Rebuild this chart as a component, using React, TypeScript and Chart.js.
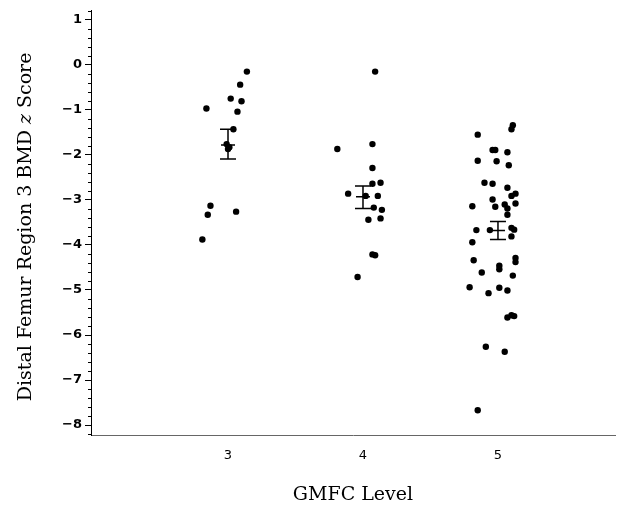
import React, { useEffect, useRef } from "react";
import { Chart, registerables } from "chart.js";

Chart.register(...registerables);

// ---- Data ----
const xTickValues = [3, 4, 5];
const xTickLabels = ["3", "4", "5"];
const yTickValues = [1, 0, -1, -2, -3, -4, -5, -6, -7, -8];

const xTitle = "GMFC Level";
const yTitleParts = [
  { text: "Distal Femur Region 3 BMD ", italic: false },
  { text: "z", italic: true },
  { text: " Score", italic: false },
];

// GMFC level 3 (jittered x, z score)
const level3X = [3.14, 3.09, 3.02, 3.10, 2.84, 3.07, 3.04, 2.99, 3.01, 3.0, 2.87, 2.85, 3.06, 2.81];
const level3Y = [-0.15, -0.44, -0.75, -0.81, -0.97, -1.04, -1.43, -1.76, -1.83, -1.87, -3.13, -3.33, -3.26, -3.88];

// GMFC level 4
const level4X = [4.09, 4.07, 3.81, 4.07, 4.07, 4.13, 3.89, 4.02, 4.11, 4.08, 4.14, 4.04, 4.13, 4.07, 4.09, 3.96];
const level4Y = [-0.15, -1.76, -1.87, -2.29, -2.64, -2.62, -2.86, -2.91, -2.91, -3.17, -3.22, -3.44, -3.41, -4.21, -4.23, -4.71];

// GMFC level 5
const level5X = [
  5.11, 5.10, 4.85, 4.96, 4.98, 5.07, 4.85, 4.99, 5.08, 4.90, 4.96, 5.07, 5.13, 5.10, 4.96,
  4.81, 4.98, 5.05, 5.07, 5.13, 5.07, 4.84, 4.94, 5.10, 5.12, 5.10, 4.81, 4.82, 5.13, 5.13,
  5.01, 5.01, 4.88, 5.11, 4.79, 4.93, 5.01, 5.07, 5.07, 5.10, 5.12, 4.91, 5.05, 4.85,
];
const level5Y = [
  -1.34, -1.43, -1.55, -1.89, -1.89, -1.94, -2.13, -2.14, -2.23, -2.62, -2.64, -2.73, -2.86, -2.91, -2.99,
  -3.14, -3.15, -3.10, -3.19, -3.08, -3.33, -3.67, -3.67, -3.62, -3.66, -3.81, -3.94, -4.34, -4.29, -4.38,
  -4.46, -4.54, -4.61, -4.68, -4.94, -5.07, -4.95, -5.01, -5.61, -5.56, -5.58, -6.26, -6.37, -7.67,
];

// Mean ± SE per level
const meanLevels = [3, 4, 5];
const meanValues = [-1.78, -2.93, -3.68];
const seLower = [-2.09, -3.19, -3.88];
const seUpper = [-1.43, -2.69, -3.48];

const toPoints = (xs: number[], ys: number[]) => xs.map((x, i) => ({ x, y: ys[i] }));

const fmt = (v: number) => (v < 0 ? "\u2212" + Math.abs(v) : String(v));

const SERIF = "'DejaVu Serif', 'Liberation Serif', serif";
const SANS = "'DejaVu Sans', 'Liberation Sans', sans-serif";

const decorPlugin = {
  id: "decor",
  afterDatasetsDraw(chart: any) {
    const { ctx, scales } = chart;
    const xs = scales.x;
    const ys = scales.y;
    ctx.save();
    ctx.strokeStyle = "#000";
    ctx.lineWidth = 1.5;
    meanLevels.forEach((lv, i) => {
      const px = xs.getPixelForValue(lv);
      const pLo = ys.getPixelForValue(seLower[i]);
      const pHi = ys.getPixelForValue(seUpper[i]);
      const pM = ys.getPixelForValue(meanValues[i]);
      ctx.beginPath();
      ctx.moveTo(px, pLo);
      ctx.lineTo(px, pHi);
      ctx.moveTo(px - 8, pLo);
      ctx.lineTo(px + 8, pLo);
      ctx.moveTo(px - 8, pHi);
      ctx.lineTo(px + 8, pHi);
      ctx.moveTo(px - 7, pM);
      ctx.lineTo(px + 7, pM);
      ctx.stroke();
    });
    ctx.restore();
  },
  afterDraw(chart: any) {
    const { ctx, chartArea, scales } = chart;
    const ys = scales.y;
    ctx.save();
    ctx.strokeStyle = "#000";
    ctx.lineWidth = 1;
    const lo = Math.ceil(ys.min * 5);
    const hi = Math.floor(ys.max * 5);
    for (let k = lo; k <= hi; k++) {
      if (k % 5 === 0) continue;
      const py = Math.round(ys.getPixelForValue(k / 5)) + 0.5;
      ctx.beginPath();
      ctx.moveTo(chartArea.left - 3, py);
      ctx.lineTo(chartArea.left, py);
      ctx.stroke();
    }
    ctx.fillStyle = "#000";
    ctx.textBaseline = "middle";
    const size = 19;
    const fonts = yTitleParts.map((p) => `${p.italic ? "italic " : ""}${size}px ${SERIF}`);
    const widths = yTitleParts.map((p, i) => {
      ctx.font = fonts[i];
      return ctx.measureText(p.text).width;
    });
    const total = widths.reduce((a, b) => a + b, 0);
    ctx.translate(26, (chartArea.top + chartArea.bottom) / 2 + 4);
    ctx.rotate(-Math.PI / 2);
    let cx = -total / 2;
    yTitleParts.forEach((p, i) => {
      ctx.font = fonts[i];
      ctx.textAlign = "left";
      ctx.fillText(p.text, cx, 0);
      cx += widths[i];
    });
    ctx.restore();
  },
};

export default function App() {
  const ref = useRef<HTMLCanvasElement | null>(null);
  useEffect(() => {
    if (!ref.current) return;
    const pointStyle = {
      backgroundColor: "#000",
      borderColor: "#000",
      pointRadius: 3.2,
      pointHoverRadius: 3.2,
      borderWidth: 0,
    };
    const chart = new Chart(ref.current, {
      type: "scatter",
      data: {
        datasets: [
          { label: "3", data: toPoints(level3X, level3Y), ...pointStyle },
          { label: "4", data: toPoints(level4X, level4Y), ...pointStyle },
          { label: "5", data: toPoints(level5X, level5Y), ...pointStyle },
        ],
      },
      options: {
        animation: false,
        responsive: false,
        events: [],
        layout: { padding: { left: 0, top: 8, right: 10, bottom: 0 } },
        plugins: { legend: { display: false }, tooltip: { enabled: false } },
        scales: {
          x: {
            type: "linear",
            min: 1.985,
            max: 5.867,
            afterBuildTicks: (axis: any) => {
              axis.ticks = xTickValues.map((v) => ({ value: v }));
            },
            afterFit: (scale: any) => {
              scale.height = 77;
            },
            grid: { display: false, drawTicks: false },
            border: { display: true, color: "#666", width: 1 },
            ticks: {
              padding: 13,
              color: "#000",
              font: { family: SANS, size: 13 },
              callback: (v: any) => {
                const i = xTickValues.indexOf(Number(v));
                return i >= 0 ? xTickLabels[i] : "";
              },
            },
            title: {
              display: true,
              text: xTitle,
              color: "#000",
              font: { family: SERIF, size: 19 },
              padding: { top: 0, bottom: 6 },
            },
          },
          y: {
            type: "linear",
            min: -8.22,
            max: 1.2,
            afterBuildTicks: (axis: any) => {
              axis.ticks = yTickValues.map((v) => ({ value: v }));
            },
            afterFit: (scale: any) => {
              scale.width = 91;
            },
            grid: {
              display: true,
              drawOnChartArea: false,
              drawTicks: true,
              tickLength: 6,
              color: "#000",
              tickColor: "#000",
            },
            border: { display: true, color: "#000", width: 1 },
            ticks: {
              padding: 3,
              color: "#000",
              font: { family: SANS, size: 13, weight: "bold" },
              callback: (v: any) => fmt(Number(v)),
            },
          },
        },
      },
      plugins: [decorPlugin],
    } as any);
    return () => chart.destroy();
  }, []);
  return (
    <div style={{ position: "fixed", left: 0, top: 0, width: 625, height: 512, background: "#fff" }}>
      <canvas ref={ref} width={625} height={512} style={{ width: 625, height: 512, display: "block" }} />
    </div>
  );
}
